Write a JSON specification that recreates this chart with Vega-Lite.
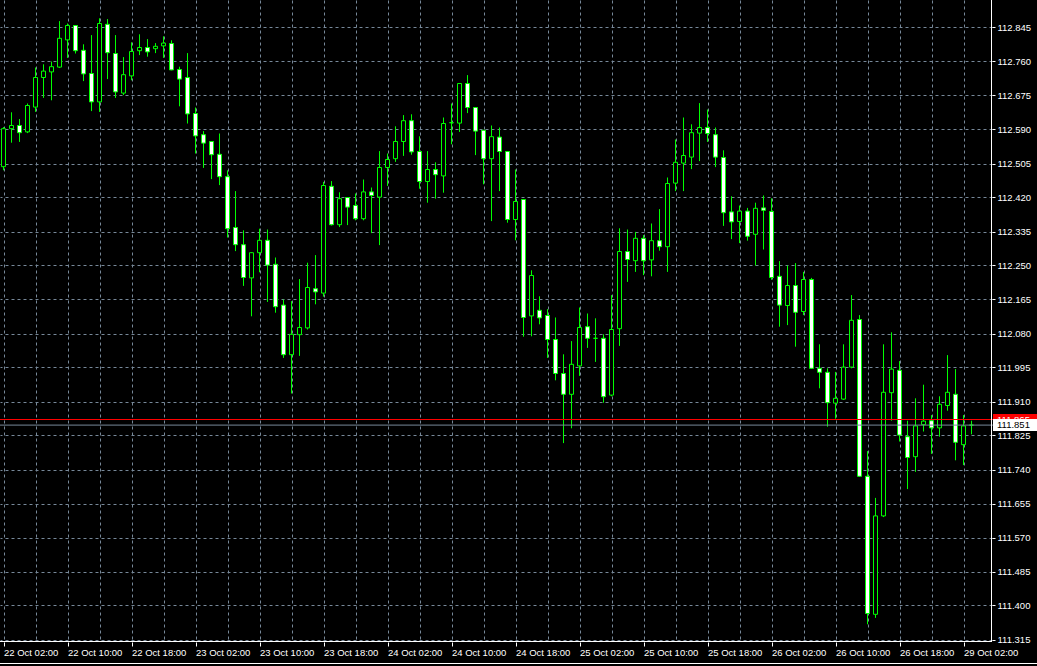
{
  "$schema": "https://vega.github.io/schema/vega-lite/v6.json",
  "width": 992,
  "height": 642,
  "autosize": {"type": "none"},
  "padding": {"left": 0, "top": 0, "right": 45, "bottom": 24},
  "background": "#000000",
  "config": {"view": {"stroke": null}},
  "datasets": {
    "candles": [
      {"i":0,"o":112.497,"h":112.596,"l":112.488,"c":112.592},
      {"i":1,"o":112.592,"h":112.633,"l":112.557,"c":112.600},
      {"i":2,"o":112.600,"h":112.616,"l":112.559,"c":112.582},
      {"i":3,"o":112.584,"h":112.655,"l":112.581,"c":112.650},
      {"i":4,"o":112.646,"h":112.745,"l":112.634,"c":112.720},
      {"i":5,"o":112.720,"h":112.753,"l":112.669,"c":112.736},
      {"i":6,"o":112.734,"h":112.760,"l":112.663,"c":112.747},
      {"i":7,"o":112.746,"h":112.861,"l":112.744,"c":112.818},
      {"i":8,"o":112.814,"h":112.855,"l":112.769,"c":112.850},
      {"i":9,"o":112.850,"h":112.851,"l":112.780,"c":112.787},
      {"i":10,"o":112.788,"h":112.803,"l":112.711,"c":112.729},
      {"i":11,"o":112.730,"h":112.826,"l":112.636,"c":112.659},
      {"i":12,"o":112.659,"h":112.868,"l":112.634,"c":112.855},
      {"i":13,"o":112.853,"h":112.866,"l":112.716,"c":112.782},
      {"i":14,"o":112.780,"h":112.826,"l":112.669,"c":112.684},
      {"i":15,"o":112.681,"h":112.771,"l":112.676,"c":112.727},
      {"i":16,"o":112.724,"h":112.808,"l":112.713,"c":112.785},
      {"i":17,"o":112.787,"h":112.828,"l":112.776,"c":112.795},
      {"i":18,"o":112.795,"h":112.816,"l":112.772,"c":112.784},
      {"i":19,"o":112.792,"h":112.806,"l":112.781,"c":112.798},
      {"i":20,"o":112.799,"h":112.823,"l":112.769,"c":112.806},
      {"i":21,"o":112.805,"h":112.813,"l":112.738,"c":112.739},
      {"i":22,"o":112.740,"h":112.747,"l":112.648,"c":112.716},
      {"i":23,"o":112.720,"h":112.781,"l":112.605,"c":112.629},
      {"i":24,"o":112.630,"h":112.645,"l":112.530,"c":112.574},
      {"i":25,"o":112.577,"h":112.586,"l":112.494,"c":112.556},
      {"i":26,"o":112.560,"h":112.561,"l":112.466,"c":112.527},
      {"i":27,"o":112.528,"h":112.580,"l":112.451,"c":112.472},
      {"i":28,"o":112.472,"h":112.488,"l":112.320,"c":112.342},
      {"i":29,"o":112.345,"h":112.436,"l":112.286,"c":112.302},
      {"i":30,"o":112.302,"h":112.338,"l":112.199,"c":112.220},
      {"i":31,"o":112.219,"h":112.283,"l":112.123,"c":112.282},
      {"i":32,"o":112.282,"h":112.342,"l":112.233,"c":112.313},
      {"i":33,"o":112.313,"h":112.340,"l":112.159,"c":112.251},
      {"i":34,"o":112.253,"h":112.270,"l":112.132,"c":112.147},
      {"i":35,"o":112.151,"h":112.165,"l":112.019,"c":112.027},
      {"i":36,"o":112.027,"h":112.161,"l":111.930,"c":112.078},
      {"i":37,"o":112.077,"h":112.216,"l":112.024,"c":112.095},
      {"i":38,"o":112.094,"h":112.257,"l":112.090,"c":112.195},
      {"i":39,"o":112.192,"h":112.276,"l":112.153,"c":112.184},
      {"i":40,"o":112.181,"h":112.459,"l":112.172,"c":112.450},
      {"i":41,"o":112.448,"h":112.461,"l":112.350,"c":112.352},
      {"i":42,"o":112.352,"h":112.433,"l":112.346,"c":112.417},
      {"i":43,"o":112.420,"h":112.421,"l":112.351,"c":112.396},
      {"i":44,"o":112.400,"h":112.430,"l":112.363,"c":112.367},
      {"i":45,"o":112.367,"h":112.465,"l":112.363,"c":112.434},
      {"i":46,"o":112.434,"h":112.445,"l":112.331,"c":112.425},
      {"i":47,"o":112.421,"h":112.536,"l":112.301,"c":112.495},
      {"i":48,"o":112.495,"h":112.530,"l":112.449,"c":112.515},
      {"i":49,"o":112.517,"h":112.598,"l":112.509,"c":112.560},
      {"i":50,"o":112.560,"h":112.626,"l":112.524,"c":112.612},
      {"i":51,"o":112.612,"h":112.628,"l":112.527,"c":112.534},
      {"i":52,"o":112.535,"h":112.573,"l":112.442,"c":112.460},
      {"i":53,"o":112.460,"h":112.536,"l":112.407,"c":112.490},
      {"i":54,"o":112.490,"h":112.508,"l":112.417,"c":112.477},
      {"i":55,"o":112.474,"h":112.620,"l":112.432,"c":112.605},
      {"i":56,"o":112.607,"h":112.655,"l":112.553,"c":112.607},
      {"i":57,"o":112.606,"h":112.706,"l":112.584,"c":112.705},
      {"i":58,"o":112.705,"h":112.726,"l":112.631,"c":112.645},
      {"i":59,"o":112.645,"h":112.646,"l":112.526,"c":112.586},
      {"i":60,"o":112.588,"h":112.589,"l":112.453,"c":112.517},
      {"i":61,"o":112.517,"h":112.600,"l":112.361,"c":112.572},
      {"i":62,"o":112.571,"h":112.595,"l":112.436,"c":112.535},
      {"i":63,"o":112.535,"h":112.536,"l":112.357,"c":112.365},
      {"i":64,"o":112.365,"h":112.490,"l":112.313,"c":112.410},
      {"i":65,"o":112.415,"h":112.416,"l":112.072,"c":112.120},
      {"i":66,"o":112.124,"h":112.238,"l":112.073,"c":112.225},
      {"i":67,"o":112.138,"h":112.173,"l":112.103,"c":112.119},
      {"i":68,"o":112.125,"h":112.141,"l":112.019,"c":112.065},
      {"i":69,"o":112.065,"h":112.120,"l":111.963,"c":111.980},
      {"i":70,"o":111.980,"h":112.028,"l":111.806,"c":111.928},
      {"i":71,"o":111.928,"h":112.061,"l":111.843,"c":112.003},
      {"i":72,"o":111.999,"h":112.145,"l":111.974,"c":112.095},
      {"i":73,"o":112.097,"h":112.130,"l":112.044,"c":112.068},
      {"i":74,"o":112.068,"h":112.118,"l":112.009,"c":112.068},
      {"i":75,"o":112.068,"h":112.078,"l":111.907,"c":111.922},
      {"i":76,"o":111.926,"h":112.176,"l":111.923,"c":112.090},
      {"i":77,"o":112.092,"h":112.343,"l":112.049,"c":112.285},
      {"i":78,"o":112.285,"h":112.340,"l":112.209,"c":112.265},
      {"i":79,"o":112.262,"h":112.334,"l":112.234,"c":112.318},
      {"i":80,"o":112.318,"h":112.326,"l":112.226,"c":112.262},
      {"i":81,"o":112.264,"h":112.355,"l":112.223,"c":112.312},
      {"i":82,"o":112.312,"h":112.391,"l":112.287,"c":112.297},
      {"i":83,"o":112.297,"h":112.470,"l":112.234,"c":112.455},
      {"i":84,"o":112.456,"h":112.565,"l":112.436,"c":112.508},
      {"i":85,"o":112.506,"h":112.620,"l":112.436,"c":112.525},
      {"i":86,"o":112.521,"h":112.603,"l":112.491,"c":112.582},
      {"i":87,"o":112.581,"h":112.656,"l":112.511,"c":112.595},
      {"i":88,"o":112.595,"h":112.640,"l":112.559,"c":112.580},
      {"i":89,"o":112.577,"h":112.595,"l":112.496,"c":112.521},
      {"i":90,"o":112.520,"h":112.538,"l":112.349,"c":112.382},
      {"i":91,"o":112.384,"h":112.423,"l":112.316,"c":112.359},
      {"i":92,"o":112.360,"h":112.400,"l":112.306,"c":112.386},
      {"i":93,"o":112.386,"h":112.394,"l":112.312,"c":112.323},
      {"i":94,"o":112.328,"h":112.407,"l":112.250,"c":112.393},
      {"i":95,"o":112.394,"h":112.425,"l":112.290,"c":112.388},
      {"i":96,"o":112.385,"h":112.418,"l":112.214,"c":112.220},
      {"i":97,"o":112.223,"h":112.261,"l":112.097,"c":112.151},
      {"i":98,"o":112.150,"h":112.250,"l":112.101,"c":112.200},
      {"i":99,"o":112.200,"h":112.256,"l":112.047,"c":112.133},
      {"i":100,"o":112.135,"h":112.234,"l":112.126,"c":112.215},
      {"i":101,"o":112.215,"h":112.219,"l":111.992,"c":111.993},
      {"i":102,"o":111.993,"h":112.053,"l":111.943,"c":111.983},
      {"i":103,"o":111.983,"h":111.993,"l":111.847,"c":111.907},
      {"i":104,"o":111.906,"h":111.984,"l":111.867,"c":111.918},
      {"i":105,"o":111.916,"h":112.053,"l":111.914,"c":111.996},
      {"i":106,"o":111.996,"h":112.176,"l":111.993,"c":112.113},
      {"i":107,"o":112.115,"h":112.126,"l":111.722,"c":111.723},
      {"i":108,"o":111.723,"h":111.786,"l":111.353,"c":111.380},
      {"i":109,"o":111.378,"h":111.669,"l":111.369,"c":111.624},
      {"i":110,"o":111.624,"h":112.053,"l":111.621,"c":111.933},
      {"i":111,"o":111.932,"h":112.083,"l":111.862,"c":111.991},
      {"i":112,"o":111.988,"h":112.011,"l":111.810,"c":111.826},
      {"i":113,"o":111.822,"h":111.862,"l":111.691,"c":111.770},
      {"i":114,"o":111.772,"h":111.918,"l":111.734,"c":111.849},
      {"i":115,"o":111.852,"h":111.952,"l":111.835,"c":111.861},
      {"i":116,"o":111.862,"h":111.876,"l":111.779,"c":111.844},
      {"i":117,"o":111.844,"h":111.923,"l":111.822,"c":111.903},
      {"i":118,"o":111.900,"h":112.026,"l":111.887,"c":111.933},
      {"i":119,"o":111.928,"h":111.991,"l":111.763,"c":111.808},
      {"i":120,"o":111.802,"h":111.876,"l":111.751,"c":111.849},
      {"i":121,"o":111.851,"h":111.862,"l":111.828,"c":111.851}
    ],
    "one": [{"k": 1}]
  },
  "layer": [
    {
      "data": {"name": "candles"},
      "mark": {"type": "rule", "stroke": "#00ff00", "strokeWidth": 1},
      "encoding": {
        "x": {
          "field": "i", "type": "quantitative",
          "scale": {"domain": [-0.4375, 123.5625], "nice": false, "zero": false, "padding": 0},
          "axis": {
            "orient": "bottom",
            "values": [0,4,8,12,16,20,24,28,32,36,40,44,48,52,56,60,64,68,72,76,80,84,88,92,96,100,104,108,112,116,120],
            "tickCount": 1000,
            "grid": true, "gridColor": "#778899", "gridDash": [3, 3],
            "domain": false,
            "ticks": true, "tickColor": "#ffffff", "tickSize": 4,
            "tickOpacity": {"condition": {"test": "datum.value % 8 === 0", "value": 1}, "value": 0},
            "labelExpr": "datum.value % 8 === 0 ? timeFormat(datetime(2018, 9, 22, 2 + datum.value + (datum.value > 117 ? 48 : 0), 0), '%d %b %H:%M') : ''",
            "labelColor": "#ffffff", "labelFont": "Liberation Sans", "labelFontSize": 9.5,
            "labelAlign": "left", "labelBaseline": "top", "labelPadding": 1,
            "labelOverlap": false, "labelFlush": false,
            "title": null
          }
        },
        "y": {
          "field": "l", "type": "quantitative",
          "scale": {"domain": [111.30875, 112.91375], "nice": false, "zero": false, "padding": 0},
          "axis": {
            "orient": "right",
            "values": [111.315,111.4,111.485,111.57,111.655,111.74,111.825,111.91,111.995,112.08,112.165,112.25,112.335,112.42,112.505,112.59,112.675,112.76,112.845],
            "tickCount": 1000,
            "format": ".3f",
            "grid": true, "gridColor": "#778899", "gridDash": [3, 3],
            "domain": false,
            "ticks": true, "tickColor": "#ffffff", "tickSize": 3,
            "labelColor": "#ffffff", "labelFont": "Liberation Sans", "labelFontSize": 9.5,
            "labelAlign": "left", "labelBaseline": "middle", "labelPadding": 2,
            "labelOverlap": false, "labelFlush": false,
            "title": null
          }
        },
        "y2": {"field": "h"}
      }
    },
    {
      "data": {"name": "candles"},
      "mark": {"type": "bar", "size": 4, "stroke": "#00ff00", "strokeWidth": 1},
      "encoding": {
        "x": {"field": "i", "type": "quantitative"},
        "y": {"field": "o", "type": "quantitative"},
        "y2": {"field": "c"},
        "fill": {"condition": {"test": "datum.c < datum.o", "value": "#ffffff"}, "value": "#000000"}
      }
    },
    {
      "data": {"name": "one"},
      "mark": {"type": "rule", "stroke": "#ff0000", "strokeWidth": 1},
      "encoding": {
        "x": {"datum": -0.4375, "type": "quantitative"},
        "x2": {"datum": 123.6875},
        "y": {"datum": 111.865, "type": "quantitative"}
      }
    },
    {
      "data": {"name": "one"},
      "mark": {"type": "rule", "stroke": "#778899", "strokeWidth": 1},
      "encoding": {
        "x": {"datum": -0.4375, "type": "quantitative"},
        "x2": {"datum": 123.6875},
        "y": {"datum": 111.851, "type": "quantitative"}
      }
    },
    {
      "data": {"name": "one"},
      "mark": {"type": "rule", "stroke": "#ffffff", "strokeWidth": 1},
      "encoding": {
        "x": {"datum": 123.5, "type": "quantitative"},
        "y": {"datum": 112.91375, "type": "quantitative"},
        "y2": {"datum": 111.31}
      }
    },
    {
      "data": {"name": "one"},
      "mark": {"type": "rule", "stroke": "#ffffff", "strokeWidth": 1},
      "encoding": {
        "x": {"datum": -0.4375, "type": "quantitative"},
        "x2": {"datum": 123.5625},
        "y": {"datum": 111.31, "type": "quantitative"}
      }
    },
    {
      "data": {"name": "one"},
      "mark": {"type": "rule", "stroke": "#ffffff", "strokeWidth": 1},
      "encoding": {
        "x": {"datum": -0.4375, "type": "quantitative"},
        "x2": {"datum": 129.1875},
        "y": {"datum": 111.255, "type": "quantitative"}
      }
    },
    {
      "data": {"name": "one"},
      "mark": {"type": "rect", "fill": "#ff0000"},
      "encoding": {
        "x": {"datum": 123.6875, "type": "quantitative"},
        "x2": {"datum": 129.1875},
        "y": {"datum": 111.87875, "type": "quantitative"},
        "y2": {"datum": 111.84875}
      }
    },
    {
      "data": {"name": "one"},
      "mark": {"type": "text", "align": "left", "baseline": "middle", "font": "Liberation Sans", "fontSize": 9.5, "fill": "#ffffff"},
      "encoding": {
        "x": {"datum": 124.1875, "type": "quantitative"},
        "y": {"datum": 111.865, "type": "quantitative"},
        "text": {"value": "111.865"}
      }
    },
    {
      "data": {"name": "one"},
      "mark": {"type": "rect", "fill": "#ffffff"},
      "encoding": {
        "x": {"datum": 123.6875, "type": "quantitative"},
        "x2": {"datum": 129.1875},
        "y": {"datum": 111.86625, "type": "quantitative"},
        "y2": {"datum": 111.83625}
      }
    },
    {
      "data": {"name": "one"},
      "mark": {"type": "text", "align": "left", "baseline": "middle", "font": "Liberation Sans", "fontSize": 9.5, "fill": "#000000"},
      "encoding": {
        "x": {"datum": 124.1875, "type": "quantitative"},
        "y": {"datum": 111.851, "type": "quantitative"},
        "text": {"value": "111.851"}
      }
    }
  ]
}
